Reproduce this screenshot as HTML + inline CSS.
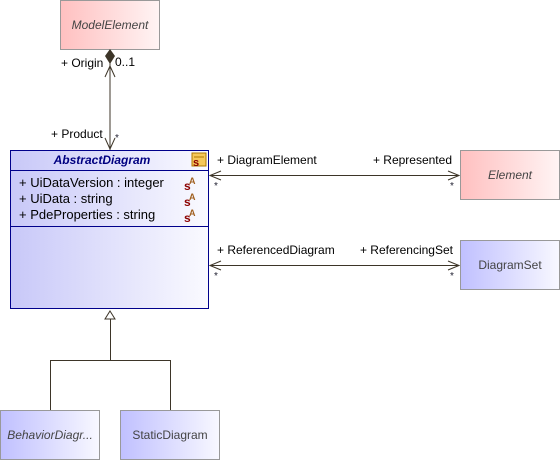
<!DOCTYPE html>
<html><head><meta charset="utf-8"><style>
html,body{margin:0;padding:0;background:#fff;}
svg{display:block;font-family:"Liberation Sans",sans-serif;}
</style></head><body>
<svg width="560" height="460" viewBox="0 0 560 460" xmlns="http://www.w3.org/2000/svg">
<defs>
<linearGradient id="red" x1="0" x2="1"><stop offset="0" stop-color="#ffc0c0"/><stop offset="1" stop-color="#fff4f4"/></linearGradient>
<linearGradient id="blue" x1="0" x2="1"><stop offset="0" stop-color="#c0c0ff"/><stop offset="1" stop-color="#f8f8ff"/></linearGradient>
<linearGradient id="blue2" x1="0" x2="1"><stop offset="0" stop-color="#c8c8f8"/><stop offset="1" stop-color="#fafaff"/></linearGradient>
</defs>
<rect x="60.5" y="0.5" width="99" height="49" fill="url(#red)" stroke="#999"/>
<text x="110" y="29" font-size="12" font-style="italic" fill="#444" text-anchor="middle">ModelElement</text>
<line x1="110" y1="62" x2="110" y2="150" stroke="#3d3528"/>
<polygon points="110,49 115,56 110,64 105,56" fill="#3d3528"/>
<polyline points="105,77 110,66 115,77" fill="none" stroke="#3d3528"/>
<polyline points="105,138 110,149 115,138" fill="none" stroke="#3d3528"/>
<text x="61" y="67" font-size="12" fill="#000">+ Origin</text>
<text x="115" y="66" font-size="12" fill="#000">0..1</text>
<text x="51" y="138" font-size="12" fill="#000">+ Product</text>
<text x="115" y="141" font-size="10" fill="#223">*</text>
<rect x="10.5" y="150.5" width="198" height="158" fill="url(#blue2)" stroke="#00008b"/>
<line x1="10.5" y1="170.5" x2="208.5" y2="170.5" stroke="#00008b"/>
<line x1="10.5" y1="226.5" x2="208.5" y2="226.5" stroke="#00008b"/>
<text x="102" y="164" font-size="12" font-weight="bold" font-style="italic" fill="#000080" text-anchor="middle">AbstractDiagram</text>
<rect x="192" y="153" width="14" height="13" fill="#f6c85a" stroke="#b07800"/>
<line x1="194" y1="157" x2="204" y2="157" stroke="#b07800"/>
<text x="193" y="166" font-size="11" font-weight="bold" fill="#8b0000">s</text>
<text x="19" y="187" font-size="13" fill="#000">+ UiDataVersion : integer</text>
<text x="19" y="203" font-size="13" fill="#000">+ UiData : string</text>
<text x="19" y="219" font-size="13" fill="#000">+ PdeProperties : string</text>
<g font-size="12" font-weight="bold" fill="#8b0000">
<text x="184" y="190">s</text><text x="184" y="206">s</text><text x="184" y="222">s</text>
</g>
<g font-size="9" font-weight="bold" fill="#a06020">
<text x="189" y="184">A</text><text x="189" y="200">A</text><text x="189" y="216">A</text>
</g>
<line x1="210" y1="175.5" x2="459" y2="175.5" stroke="#3d3528"/>
<polyline points="221,171 210,175.5 221,180" fill="none" stroke="#3d3528"/>
<polyline points="448,171 459,175.5 448,180" fill="none" stroke="#3d3528"/>
<text x="217" y="164" font-size="12" fill="#000">+ DiagramElement</text>
<text x="452" y="164" font-size="12" fill="#000" text-anchor="end">+ Represented</text>
<text x="214" y="189" font-size="10" fill="#223">*</text>
<text x="450" y="189" font-size="10" fill="#223">*</text>
<rect x="460.5" y="150.5" width="99" height="49" fill="url(#red)" stroke="#999"/>
<text x="510" y="179" font-size="12" font-style="italic" fill="#444" text-anchor="middle">Element</text>
<line x1="210" y1="265.5" x2="459" y2="265.5" stroke="#3d3528"/>
<polyline points="221,261 210,265.5 221,270" fill="none" stroke="#3d3528"/>
<polyline points="448,261 459,265.5 448,270" fill="none" stroke="#3d3528"/>
<text x="217" y="254" font-size="12" fill="#000">+ ReferencedDiagram</text>
<text x="453" y="254" font-size="12" fill="#000" text-anchor="end">+ ReferencingSet</text>
<text x="214" y="279" font-size="10" fill="#223">*</text>
<text x="450" y="279" font-size="10" fill="#223">*</text>
<rect x="460.5" y="240.5" width="99" height="49" fill="url(#blue)" stroke="#999"/>
<text x="510" y="269" font-size="12" fill="#444" text-anchor="middle">DiagramSet</text>
<polygon points="110,311 115,319 105,319" fill="#fff" stroke="#3d3528"/>
<line x1="110.5" y1="319" x2="110.5" y2="360.5" stroke="#3d3528"/>
<polyline points="50.5,410 50.5,360.5 170.5,360.5 170.5,410" fill="none" stroke="#3d3528"/>
<rect x="0.5" y="410.5" width="99" height="49" fill="url(#blue)" stroke="#999"/>
<text x="50" y="439" font-size="12" font-style="italic" fill="#444" text-anchor="middle">BehaviorDiagr...</text>
<rect x="120.5" y="410.5" width="99" height="49" fill="url(#blue)" stroke="#999"/>
<text x="170" y="439" font-size="12" fill="#444" text-anchor="middle">StaticDiagram</text>
</svg>
</body></html>
